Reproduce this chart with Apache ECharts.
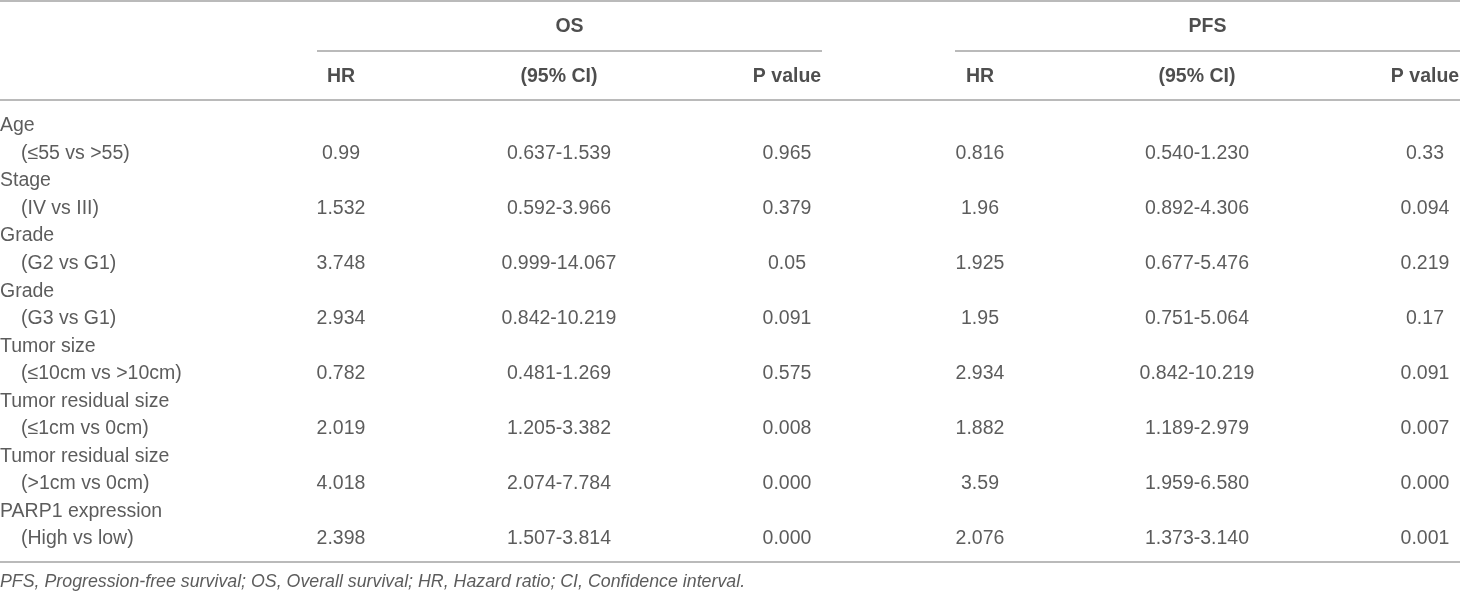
<!DOCTYPE html>
<html>
<head>
<meta charset="utf-8">
<script src="https://cdn.jsdelivr.net/npm/echarts@6/dist/echarts.min.js"></script>
<style>
  html, body { margin: 0; padding: 0; background: #fff; }
  #chart { width: 1460px; height: 592px; }
</style>
</head>
<body>
<div id="chart"></div>
<script>
// table content
const groupNames = ['Age', 'Stage', 'Grade', 'Grade', 'Tumor size', 'Tumor residual size', 'Tumor residual size', 'PARP1 expression'];
const comparisons = ['(≤55 vs >55)', '(IV vs III)', '(G2 vs G1)', '(G3 vs G1)', '(≤10cm vs >10cm)', '(≤1cm vs 0cm)', '(>1cm vs 0cm)', '(High vs low)'];
const osHR = ['0.99', '1.532', '3.748', '2.934', '0.782', '2.019', '4.018', '2.398'];
const osCI = ['0.637-1.539', '0.592-3.966', '0.999-14.067', '0.842-10.219', '0.481-1.269', '1.205-3.382', '2.074-7.784', '1.507-3.814'];
const osP = ['0.965', '0.379', '0.05', '0.091', '0.575', '0.008', '0.000', '0.000'];
const pfsHR = ['0.816', '1.96', '1.925', '1.95', '2.934', '1.882', '3.59', '2.076'];
const pfsCI = ['0.540-1.230', '0.892-4.306', '0.677-5.476', '0.751-5.064', '0.842-10.219', '1.189-2.979', '1.959-6.580', '1.373-3.140'];
const pfsP = ['0.33', '0.094', '0.219', '0.17', '0.091', '0.007', '0.000', '0.001'];
const spanHeaders = ['OS', 'PFS'];
const columnHeaders = ['HR', '(95% CI)', 'P value', 'HR', '(95% CI)', 'P value'];
const footnote = 'PFS, Progression-free survival; OS, Overall survival; HR, Hazard ratio; CI, Confidence interval.';

// layout (pixels, same as the axis ranges)
const W = 1460;
const H = 592;
const colCenters = [341, 559, 787, 980, 1197, 1425];
const spanRanges = [[317, 822], [955, 1460]];
const spanY = 27;
const headerY = 77;
const rowTop = 126;
const rowPitch = 27.53;
const indent = 21;
const ruleY = { top: 1, span: 51, header: 100, bottom: 562 };
const footY = 582;

const fontFamily = "'Liberation Sans', Arial, Helvetica, sans-serif";
const ruleStyle = { color: '#a3a3a3', width: 1.5, type: 'solid' };

const valueColumns = [osHR, osCI, osP, pfsHR, pfsCI, pfsP];

// cells -> scatter points carrying their text
const leftCells = [];
groupNames.forEach((name, i) => {
  leftCells.push({ value: [0, rowTop + rowPitch * 2 * i], text: name });
  leftCells.push({ value: [indent, rowTop + rowPitch * (2 * i + 1)], text: comparisons[i] });
});

const valueCells = [];
valueColumns.forEach((col, c) => {
  col.forEach((v, i) => {
    valueCells.push({ value: [colCenters[c], rowTop + rowPitch * (2 * i + 1)], text: v });
  });
});

const headerCells = [];
spanHeaders.forEach((h, s) => {
  headerCells.push({ value: [(spanRanges[s][0] + spanRanges[s][1]) / 2, spanY], text: h });
});
columnHeaders.forEach((h, c) => {
  headerCells.push({ value: [colCenters[c], headerY], text: h });
});

function hLine(x1, x2, y) {
  return [{ coord: [x1, y] }, { coord: [x2, y] }];
}

const rules = [
  hLine(0, W, ruleY.top),
  hLine(spanRanges[0][0], spanRanges[0][1], ruleY.span),
  hLine(spanRanges[1][0], spanRanges[1][1], ruleY.span),
  hLine(0, W, ruleY.header),
  hLine(0, W, ruleY.bottom),
];

function textSeries(name, data, label) {
  return {
    name,
    type: 'scatter',
    symbolSize: 0,
    silent: true,
    clip: false,
    data,
    label: Object.assign({
      show: true,
      formatter: (p) => p.data.text,
      fontFamily,
      fontSize: 19.5,
      color: '#333',
    }, label),
  };
}

const chart = echarts.init(document.getElementById('chart'), null, { renderer: 'canvas' });
chart.setOption({
  backgroundColor: '#fff',
  animation: false,
  grid: { left: 0, right: 0, top: 0, bottom: 0 },
  xAxis: { type: 'value', min: 0, max: W, show: false },
  yAxis: { type: 'value', min: 0, max: H, inverse: true, show: false },
  series: [
    Object.assign(textSeries('rowLabels', leftCells, {
      position: 'right', distance: 0, align: 'left', verticalAlign: 'middle',
    }), {
      markLine: {
        silent: true,
        symbol: 'none',
        label: { show: false },
        lineStyle: ruleStyle,
        data: rules,
      },
    }),
    textSeries('values', valueCells, {
      position: 'inside', align: 'center', verticalAlign: 'middle',
    }),
    textSeries('headers', headerCells, {
      position: 'inside', align: 'center', verticalAlign: 'middle',
      fontWeight: 'bold', color: '#222',
    }),
    textSeries('footnote', [{ value: [0, footY], text: footnote }], {
      position: 'right', distance: 0, align: 'left', verticalAlign: 'middle',
      fontStyle: 'italic', fontSize: 17.8,
    }),
  ],
});
</script>
</body>
</html>
